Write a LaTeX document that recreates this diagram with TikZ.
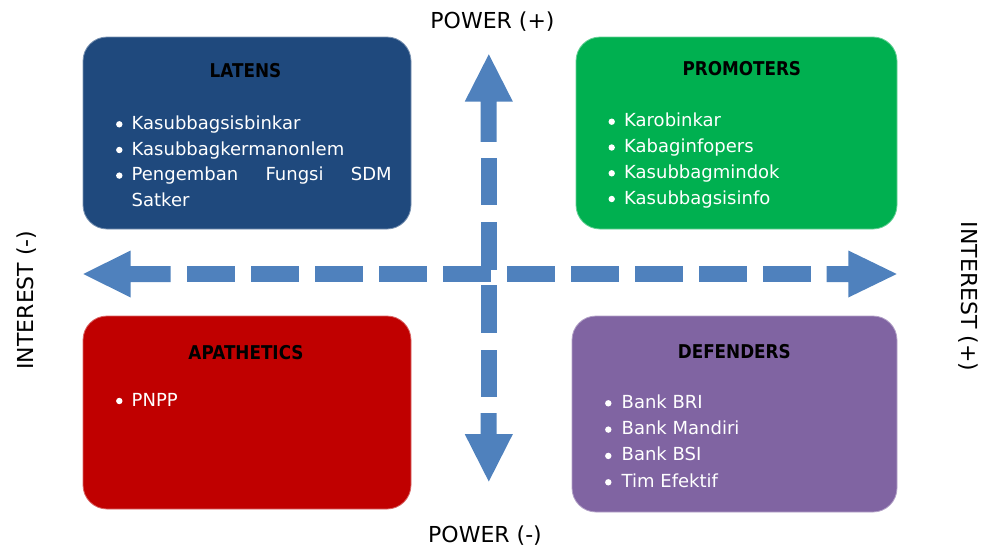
\documentclass[tikz,border=0pt]{standalone}
\usepackage{fontspec}
\setmainfont{DejaVu Sans}
\newfontfamily\headfont[FakeStretch=0.885]{DejaVu Sans Bold}
\definecolor{latensc}{HTML}{1F497D}
\definecolor{promc}{HTML}{00B050}
\definecolor{apac}{HTML}{C00000}
\definecolor{defc}{HTML}{8064A2}
\definecolor{axisc}{HTML}{4F81BD}
\begin{document}
\begin{tikzpicture}[x=1pt,y=-1pt,
  quad/.style={rectangle, rounded corners=24pt, inner sep=0pt, line width=0.8pt},
  head/.style={anchor=base, inner sep=0pt, font=\headfont\fontsize{19}{22}\selectfont, text=black},
  item/.style={anchor=base west, inner sep=0pt, font=\fontsize{18}{22}\selectfont, text=white},
  lbl/.style={anchor=base, inner sep=0pt, font=\fontsize{22}{26}\selectfont, text=black},
  axis/.style={fill=axisc}]
\useasboundingbox (0,0) rectangle (986,549);
% quadrant boxes
\node[quad, fill=latensc, draw=latensc!60!white, minimum width=328pt, minimum height=192pt] (latens) at (247,133) {};
\node[quad, fill=promc, draw=promc!60!white, minimum width=321pt, minimum height=192pt] (prom) at (736.5,133) {};
\node[quad, fill=apac, draw=apac!60!white, minimum width=328pt, minimum height=193pt] (apa) at (247,412.5) {};
\node[quad, fill=defc, draw=defc!60!white, minimum width=325pt, minimum height=196pt] (def) at (734.5,414) {};
% headers
\node[head] (hl) at (245.5,77.3) {LATENS};
\node[head] (hp) at (741.8,75) {PROMOTERS};
\node[head] (ha) at (246,359.3) {APATHETICS};
\node[head] (hd) at (734.3,358.3) {DEFENDERS};
% LATENS items
\foreach \y in {129.3,155,180.6} \fill[white] (119.3,\y-5) circle (3.2pt);
\node[item] (l1) at (131.5,129.3) {Kasubbagsisbinkar};
\node[item] (l2) at (131.5,155) {Kasubbagkermanonlem};
\node[item] (l3) at (131.5,180.6) {\makebox[260pt][s]{Pengemban Fungsi SDM}};
\node[item] (l4) at (131.5,206.2) {Satker};
% PROMOTERS items
\foreach \y in {126.7,152.5,178.3,204} \fill[white] (611.7,\y-5) circle (3.2pt);
\node[item] (p1) at (624,126.7) {Karobinkar};
\node[item] (p2) at (624,152.5) {Kabaginfopers};
\node[item] (p3) at (624,178.3) {Kasubbagmindok};
\node[item] (p4) at (624,204) {Kasubbagsisinfo};
% APATHETICS items
\fill[white] (119.3,401) circle (3.2pt);
\node[item] (a1) at (131.5,406) {PNPP};
% DEFENDERS items
\foreach \y in {408.3,434.6,460.9,487.3} \fill[white] (608.3,\y-5) circle (3.2pt);
\node[item] (d1) at (621.5,408.3) {Bank BRI};
\node[item] (d2) at (621.5,434.6) {Bank Mandiri};
\node[item] (d3) at (621.5,460.9) {Bank BSI};
\node[item] (d4) at (621.5,487.3) {Tim Efektif};
% horizontal axis (interest)
\coordinate (hleft) at (83.3,274);
\coordinate (hright) at (896.7,274);
\fill[axis] (hleft) -- (130.7,250.5) -- (130.7,266) -- (170.7,266) -- (170.7,282) -- (130.7,282) -- (130.7,297.5) -- cycle;
\fill[axis] (hright) -- (848.3,250.5) -- (848.3,266) -- (826.7,266) -- (826.7,282) -- (848.3,282) -- (848.3,297.5) -- cycle;
\foreach \a/\b in {186.7/235,251/299,315/362.7,379/426.7,442.7/490.7,506.7/555,571/619.3,635/682.7,699/746.7,762.7/810.7}
  \fill[axis] (\a,266) rectangle (\b,282);
% vertical axis (power)
\coordinate (vtop) at (488.8,54.3);
\coordinate (vbot) at (488.8,481.5);
\fill[axis] (vtop) -- (464.8,101.5) -- (480.7,101.5) -- (480.7,141.8) -- (496.7,141.8) -- (496.7,101.5) -- (512.8,101.5) -- cycle;
\fill[axis] (vbot) -- (464.8,434.2) -- (480.7,434.2) -- (480.7,413.2) -- (496.7,413.2) -- (496.7,434.2) -- (512.8,434.2) -- cycle;
\foreach \a/\b in {157.6/204.8,221.6/269.6,285.4/333.3,350.1/397.4}
  \fill[axis] (480.7,\a) rectangle (496.7,\b);
% axis labels
\node[lbl] (pplus) at (492.5,28) {POWER (+)};
\node[lbl] (pminus) at (485,542.7) {POWER (-)};
\node[lbl, rotate=90] (iminus) at (33,300) {INTEREST (-)};
\node[lbl, rotate=-90] (iplus) at (961.7,296.7) {INTEREST (+)};
\end{tikzpicture}
\end{document}
